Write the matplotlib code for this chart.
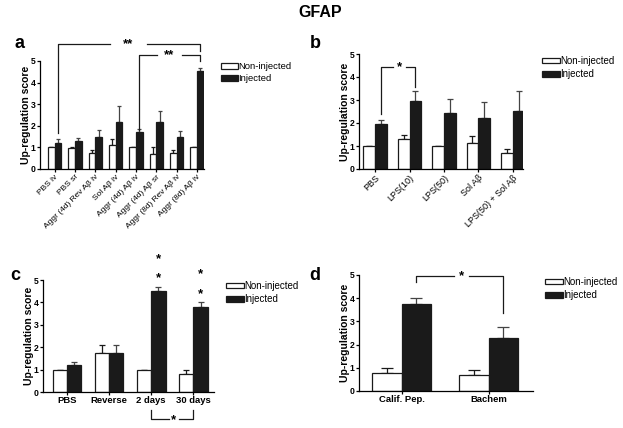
"""
GFAP up-regulation scores, four panels (a-d), non-injected vs injected.
Output: out.png
"""

import numpy as np
import matplotlib.pyplot as plt
from matplotlib.patches import Patch

plt.rcParams["font.family"] = ["Liberation Sans", "DejaVu Sans"]

# Panel a
a_labels = ["PBS iv", "PBS sr", "Aggr (4d) Rev Aβ iv", "Sol Aβ iv",
            "Aggr (4d) Aβ iv", "Aggr (4d) Aβ sr", "Aggr (8d) Rev Aβ iv",
            "Aggr (8d) Aβ iv"]
a_non = [1.0, 0.95, 0.72, 1.13, 1.04, 0.69, 0.72, 1.0]
a_non_err = [0.0, 0.06, 0.14, 0.28, 0.0, 0.32, 0.14, 0.0]
a_inj = [1.20, 1.29, 1.47, 2.18, 1.69, 2.18, 1.47, 4.52]
a_inj_err = [0.18, 0.14, 0.32, 0.72, 0.17, 0.50, 0.31, 0.17]

# Panel b
b_labels = ["PBS", "LPS(10)", "LPS(50)", "Sol Aβ", "LPS(50) + Sol Aβ"]
b_non = [1.0, 1.31, 1.0, 1.13, 0.68]
b_non_err = [0.0, 0.16, 0.0, 0.29, 0.19]
b_inj = [1.97, 2.96, 2.44, 2.20, 2.53]
b_inj_err = [0.15, 0.42, 0.62, 0.70, 0.85]

# Panel c
c_labels = ["PBS", "Reverse", "2 days", "30 days"]
c_non = [1.0, 1.75, 1.0, 0.82]
c_non_err = [0.0, 0.37, 0.0, 0.15]
c_inj = [1.19, 1.72, 4.52, 3.78]
c_inj_err = [0.15, 0.37, 0.18, 0.25]

# Panel d
d_labels = ["Calif. Pep.", "Bachem"]
d_non = [0.79, 0.69]
d_non_err = [0.19, 0.20]
d_inj = [3.75, 2.27]
d_inj_err = [0.27, 0.50]

BLACK = "#1a1a1a"

fig = plt.figure(figsize=(6.23, 4.28), dpi=100)
fig.text(320 / 623, 1 - 12.5 / 428, "GFAP", ha="center", va="center",
         fontsize=11.5, fontweight="bold")


def draw_panel(ax, labels, non, non_err, inj, inj_err, w, xlim, capsize):
    x = np.arange(len(labels))
    ax.bar(x - w / 2, non, w, color="white", edgecolor=BLACK, linewidth=0.9,
           zorder=2)
    ax.bar(x + w / 2, inj, w, color=BLACK, edgecolor=BLACK, linewidth=0.9,
           zorder=2)
    ax.errorbar(x - w / 2, non, yerr=[np.zeros(len(x)), non_err], fmt="none",
                ecolor=BLACK, elinewidth=0.9, capsize=capsize, capthick=0.9,
                zorder=1)
    ax.errorbar(x + w / 2, inj, yerr=[np.zeros(len(x)), inj_err], fmt="none",
                ecolor="#444444", elinewidth=0.9, capsize=capsize,
                capthick=0.9, zorder=1)
    ax.set_xlim(*xlim)
    ax.set_ylim(0, 5)
    ax.set_yticks(range(6))
    ax.set_xticks(x)
    for s in ["top", "right"]:
        ax.spines[s].set_visible(False)
    for s in ["left", "bottom"]:
        ax.spines[s].set_linewidth(0.9)
    ax.tick_params(axis="both", length=2.2, width=0.9, pad=1)
    ax.tick_params(axis="y", labelsize=6.2)
    for t in ax.get_yticklabels():
        t.set_fontweight("bold")
    ax.set_ylabel("Up-regulation score", fontsize=7.5, fontweight="bold",
                  labelpad=0)
    return x


def add_legend(ax, x0, y0, fs=7):
    handles = [Patch(facecolor="white", edgecolor=BLACK, linewidth=0.9),
               Patch(facecolor=BLACK, edgecolor=BLACK, linewidth=0.9)]
    ax.legend(handles, ["Non-injected", "Injected"], loc="upper left",
              bbox_to_anchor=(x0 / 623, 1 - y0 / 428),
              bbox_transform=fig.transFigure, frameon=False, fontsize=fs,
              handlelength=1.8, handleheight=0.55, handletextpad=0.05,
              labelspacing=0.35, borderpad=0, borderaxespad=0)


def bracket(ax, x1, x2, top, y1, y2, gap1, gap2, star_x, star):
    kw = dict(color=BLACK, linewidth=0.9, clip_on=False)
    ax.plot([x1, x1, gap1], [y1, top, top], **kw)
    ax.plot([gap2, x2, x2], [top, top, y2], **kw)
    ax.text(star_x, top, star, ha="center", va="center", fontsize=9.5,
            fontweight="bold", clip_on=False)


# a
ax_a = fig.add_axes([40 / 623, 1 - 169 / 428, 164 / 623, 108 / 428])
w = 0.33
draw_panel(ax_a, a_labels, a_non, a_non_err, a_inj, a_inj_err, w,
           (-0.72, 7.35), 1.6)
ax_a.set_xticklabels(a_labels, rotation=45, ha="right",
                     rotation_mode="anchor", fontsize=6)
bracket(ax_a, 0 + w / 2, 7 + w / 2, 5.8, 1.66, 5.46, 2.73, 4.53, 3.63, "**")
bracket(ax_a, 4 + w / 2, 7 + w / 2, 5.26, 1.81, 5.0, 5.02, 6.26, 5.64, "**")
add_legend(ax_a, 221, 62, fs=6.8)
fig.text(20 / 623, 1 - 43 / 428, "a", fontsize=13, fontweight="bold",
         ha="center", va="center")

# b
ax_b = fig.add_axes([359 / 623, 1 - 169 / 428, 164 / 623, 115 / 428])
w = 0.34
draw_panel(ax_b, b_labels, b_non, b_non_err, b_inj, b_inj_err, w,
           (-0.47, 4.3), 2.3)
ax_b.set_xticklabels(b_labels, rotation=45, ha="right",
                     rotation_mode="anchor", fontsize=6.5)
bracket(ax_b, 0 + w / 2, 1 + w / 2, 4.42, 2.4, 3.58, 0.51, 0.89, 0.70, "*")
add_legend(ax_b, 542, 56)
fig.text(315 / 623, 1 - 43 / 428, "b", fontsize=13, fontweight="bold",
         ha="center", va="center")

# c
ax_c = fig.add_axes([43 / 623, 1 - 392 / 428, 171 / 623, 112 / 428])
w = 0.34
draw_panel(ax_c, c_labels, c_non, c_non_err, c_inj, c_inj_err, w,
           (-0.57, 3.49), 2.5)
ax_c.set_xticklabels(c_labels, fontsize=6.8, fontweight="bold")
kw = dict(color=BLACK, linewidth=0.9, clip_on=False)
ax_c.plot([2, 2, 2.41], [-0.79, -1.19, -1.19], **kw)
ax_c.plot([2.65, 3, 3], [-1.19, -1.19, -0.79], **kw)
ax_c.text(2.53, -1.27, "*", ha="center", va="center", fontsize=9.5,
          fontweight="bold", clip_on=False)
for xs, ys in [(2 + w / 2, [5.1, 5.95]), (3 + w / 2, [4.35, 5.28])]:
    for yy in ys:
        ax_c.text(xs, yy, "*", ha="center", va="center", fontsize=9.5,
                  fontweight="bold", clip_on=False)
add_legend(ax_c, 226, 281)
fig.text(15 / 623, 1 - 276 / 428, "c", fontsize=13, fontweight="bold",
         ha="center", va="center")

# d
ax_d = fig.add_axes([359 / 623, 1 - 391 / 428, 174 / 623, 116 / 428])
w = 0.335
draw_panel(ax_d, d_labels, d_non, d_non_err, d_inj, d_inj_err, w,
           (-0.49, 1.51), 4.5)
ax_d.set_xticklabels(d_labels, fontsize=6.8, fontweight="bold")
bracket(ax_d, 0 + w / 2, 1 + w / 2, 4.97, 4.71, 3.38, 0.60, 0.78, 0.69, "*")
add_legend(ax_d, 545, 277)
fig.text(315 / 623, 1 - 276 / 428, "d", fontsize=13, fontweight="bold",
         ha="center", va="center")

plt.savefig("out.png", dpi=100)
